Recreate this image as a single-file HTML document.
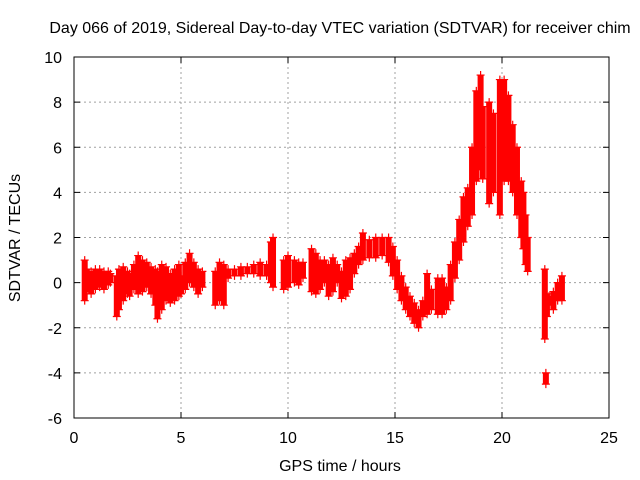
<!DOCTYPE html>
<html><head><meta charset="utf-8"><style>
body{margin:0;background:#fff}
svg{display:block;font-family:"Liberation Sans",sans-serif}
</style></head><body>
<svg id="c" width="640" height="480">
<text x="340" y="33" font-size="16" text-anchor="middle">Day 066 of 2019, Sidereal Day-to-day VTEC variation (SDTVAR) for receiver chim</text>
<text x="340" y="471" font-size="16" text-anchor="middle">GPS time / hours</text>
<text transform="translate(20,238) rotate(-90)" font-size="16" text-anchor="middle">SDTVAR / TECUs</text>
<g id="grid"></g><g id="marks"></g><g id="axes"></g>
</svg>
<script>
const xTicks=[0,5,10,15,20,25];
const yTicks=[-6,-4,-2,0,2,4,6,8,10];
const hours=[0.5,0.6,0.8,1.0,1.2,1.4,1.6,1.7,2.0,2.1,2.3,2.5,2.6,2.8,3.0,3.2,3.4,3.6,3.8,3.9,4.1,4.3,4.5,4.7,4.9,5.0,5.2,5.4,5.6,5.8,6.0,6.6,6.8,7.0,7.2,7.5,7.8,8.1,8.4,8.7,9.0,9.2,9.3,9.8,10.0,10.3,10.5,10.7,11.1,11.3,11.5,11.7,11.9,12.1,12.3,12.5,12.7,12.9,13.1,13.3,13.5,13.8,14.1,14.4,14.7,14.9,15.1,15.3,15.5,15.7,15.9,16.1,16.3,16.5,16.7,17.0,17.2,17.4,17.6,17.8,18.0,18.2,18.4,18.6,18.8,19.0,19.1,19.4,19.6,19.9,20.1,20.3,20.5,20.7,20.9,21.0,21.1,21.2,22.0,22.05,22.1,22.2,22.4,22.6,22.8];
const lows=[-0.8,-0.4,-0.5,-0.3,-0.2,-0.3,-0.1,0,-1.5,-1.2,-0.8,-0.5,-0.6,-0.3,-0.5,-0.4,-0.2,-0.5,-1.0,-1.6,-1.2,-0.8,-0.9,-0.8,-0.6,-0.5,-0.3,0,-0.2,-0.5,-0.2,-1.0,-0.8,-1.0,0.2,0.3,0.3,0.4,0.4,0.3,0.3,0.0,-0.2,-0.3,-0.2,0,-0.1,0.2,-0.4,-0.5,-0.3,0,-0.6,-0.4,0,-0.7,-0.6,-0.3,0.4,0.8,1.0,1.1,1.1,1.2,0.9,0.3,-0.3,-0.8,-1.2,-1.5,-1.8,-2.0,-1.5,-1.4,-1.2,-1.4,-1.4,-1.2,-0.8,0.2,1.0,1.8,2.5,3.0,4.5,5.0,4.6,3.5,4.0,3.0,4.5,4.5,4.0,3.0,2.0,1.5,0.8,0.5,-2.5,-4.5,-1.5,-1.0,-1.2,-0.8,-0.8];
const highs=[1.0,0.6,0.5,0.6,0.6,0.5,0.5,0.4,0.3,0.6,0.7,0.5,0.4,0.8,1.2,1.0,0.9,0.7,0.6,0.5,0.8,0.7,0.4,0.6,0.8,0.3,0.9,1.3,0.9,0.6,0.5,0.5,0.9,0.8,0.6,0.6,0.7,0.7,0.8,0.9,0.8,1.8,2.0,1.0,1.2,1.0,0.9,0.9,1.5,1.3,1.0,1.0,0.8,1.1,0.8,0.5,1.0,1.1,1.3,1.6,2.2,1.9,2.0,2.0,2.0,1.6,1.0,0.3,-0.2,-0.6,-0.9,-1.2,-0.8,0.4,-0.3,0.2,0.2,-0.2,0.8,1.8,2.8,3.8,4.2,6.0,8.5,9.2,7.8,8.0,7.5,9.0,9.0,8.3,7.0,6.0,4.5,4.0,3.0,2.0,0.6,-4.0,-0.5,-0.6,-0.4,0,0.3];
const X0=74,X1=609,Y0=418,Y1=57,XMIN=0,XMAX=25,YMIN=-6,YMAX=10;
const xs=v=>X0+(v-XMIN)/(XMAX-XMIN)*(X1-X0);
const ys=v=>Y0-(v-YMIN)/(YMAX-YMIN)*(Y0-Y1);
const NS="http://www.w3.org/2000/svg";
function mk(t,a,p){const e=document.createElementNS(NS,t);for(const k in a)e.setAttribute(k,a[k]);p.appendChild(e);return e;}
const grid=document.getElementById('grid'),axes=document.getElementById('axes'),marks=document.getElementById('marks');
xTicks.forEach(t=>{
 const x=xs(t);
 if(t>XMIN&&t<XMAX){const g=mk('line',{x1:x,x2:x,y1:Y1,y2:Y0,stroke:'#a0a0a0','stroke-dasharray':'2,3'},grid);
 
 }
 mk('line',{x1:x,x2:x,y1:Y0,y2:Y0-6,stroke:'#000'},axes);
 mk('line',{x1:x,x2:x,y1:Y1,y2:Y1+6,stroke:'#000'},axes);
 const l=mk('text',{x:x,y:Y0+25,'font-size':16,'text-anchor':'middle'},axes);l.textContent=t;
 
 
});
yTicks.forEach(t=>{
 const y=ys(t);
 if(t>YMIN&&t<YMAX){const g=mk('line',{x1:X0,x2:X1,y1:y,y2:y,stroke:'#a0a0a0','stroke-dasharray':'2,3'},grid);
 
 }
 mk('line',{x1:X0,x2:X0+6,y1:y,y2:y,stroke:'#000'},axes);
 mk('line',{x1:X1,x2:X1-6,y1:y,y2:y,stroke:'#000'},axes);
 const l=mk('text',{x:X0-12,y:y+6,'font-size':16,'text-anchor':'end'},axes);l.textContent=t;
 
 
});
const fr=mk('rect',{x:X0,y:Y1,width:X1-X0,height:Y0-Y1,fill:'none',stroke:'#000'},axes);


function plus(x,y){mk('path',{d:`M${x-4},${y}h8M${x},${y-4}v8`,stroke:'#f00','stroke-width':1.2,fill:'none'},marks);}
hours.forEach((h,i)=>{
 const x=xs(h),y1=ys(highs[i]),y2=ys(lows[i]);
 const b=mk('rect',{x:x-3,y:y1,width:6,height:Math.max(1,y2-y1),fill:'#f00'},marks);
 
 
 plus(x,y1);plus(x,y2);
});
</script>
</body></html>
